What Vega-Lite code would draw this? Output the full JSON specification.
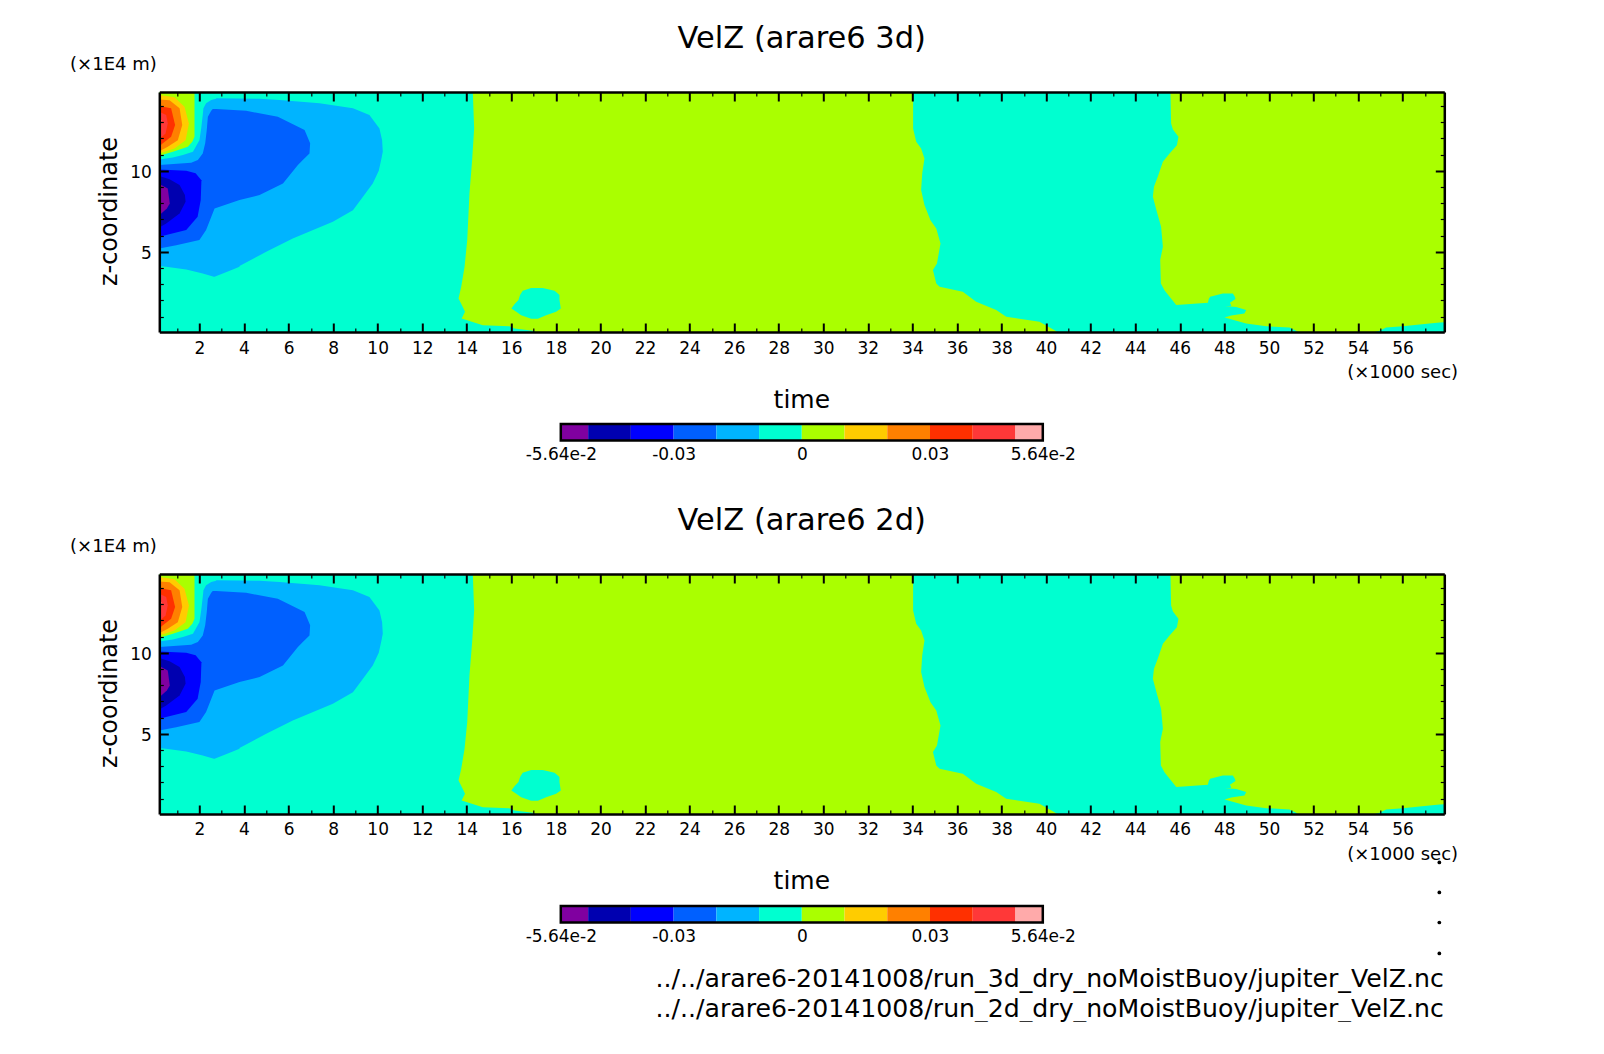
{
  "$schema": "https://vega.github.io/schema/vega-lite/v6.json",
  "description": "VelZ time-height sections from arare6, 3d and 2d runs",
  "background": "white",
  "padding": {"left": 69.3, "top": 24, "right": 0, "bottom": 0},
  "config": {"view": {"stroke": null}},
  "datasets": {
    "contours": [
      {"shape": "base", "band": -0.01, "x": 0.2, "x2": 58, "y": 14.86},
      {"shape": "base", "band": -0.01, "x": 0.2, "x2": 58, "y": 0.05},

      {"shape": "lime1", "band": 0, "x": 14.27, "x2": 58, "y": 14.86},
      {"shape": "lime1", "band": 0, "x": 14.33, "x2": 58, "y": 12.61},
      {"shape": "lime1", "band": 0, "x": 14.24, "x2": 58, "y": 10.66},
      {"shape": "lime1", "band": 0, "x": 14.12, "x2": 58, "y": 8.6},
      {"shape": "lime1", "band": 0, "x": 14.02, "x2": 58, "y": 5.72},
      {"shape": "lime1", "band": 0, "x": 13.9, "x2": 58, "y": 4.07},
      {"shape": "lime1", "band": 0, "x": 13.75, "x2": 58, "y": 2.84},
      {"shape": "lime1", "band": 0, "x": 13.63, "x2": 58, "y": 2.12},
      {"shape": "lime1", "band": 0, "x": 13.82, "x2": 58, "y": 1.6},
      {"shape": "lime1", "band": 0, "x": 13.92, "x2": 58, "y": 1.3},
      {"shape": "lime1", "band": 0, "x": 13.77, "x2": 58, "y": 0.88},
      {"shape": "lime1", "band": 0, "x": 14.72, "x2": 58, "y": 0.47},
      {"shape": "lime1", "band": 0, "x": 15.91, "x2": 58, "y": 0.41},
      {"shape": "lime1", "band": 0, "x": 16.14, "x2": 58, "y": 0.27},
      {"shape": "lime1", "band": 0, "x": 16.97, "x2": 58, "y": 0.12},
      {"shape": "lime1", "band": 0, "x": 17.1, "x2": 58, "y": 0.05},

      {"shape": "turq2", "band": -0.01, "x": 34.03, "x2": 58, "y": 14.86},
      {"shape": "turq2", "band": -0.01, "x": 34.03, "x2": 58, "y": 12.61},
      {"shape": "turq2", "band": -0.01, "x": 34.17, "x2": 58, "y": 11.79},
      {"shape": "turq2", "band": -0.01, "x": 34.39, "x2": 58, "y": 11.38},
      {"shape": "turq2", "band": -0.01, "x": 34.54, "x2": 58, "y": 10.76},
      {"shape": "turq2", "band": -0.01, "x": 34.44, "x2": 58, "y": 9.84},
      {"shape": "turq2", "band": -0.01, "x": 34.39, "x2": 58, "y": 8.81},
      {"shape": "turq2", "band": -0.01, "x": 34.54, "x2": 58, "y": 7.88},
      {"shape": "turq2", "band": -0.01, "x": 34.81, "x2": 58, "y": 6.95},
      {"shape": "turq2", "band": -0.01, "x": 35.07, "x2": 58, "y": 6.44},
      {"shape": "turq2", "band": -0.01, "x": 35.26, "x2": 58, "y": 5.51},
      {"shape": "turq2", "band": -0.01, "x": 35.1, "x2": 58, "y": 4.28},
      {"shape": "turq2", "band": -0.01, "x": 34.92, "x2": 58, "y": 3.87},
      {"shape": "turq2", "band": -0.01, "x": 35.07, "x2": 58, "y": 3.05},
      {"shape": "turq2", "band": -0.01, "x": 35.22, "x2": 58, "y": 2.84},
      {"shape": "turq2", "band": -0.01, "x": 36.26, "x2": 58, "y": 2.53},
      {"shape": "turq2", "band": -0.01, "x": 36.86, "x2": 58, "y": 1.91},
      {"shape": "turq2", "band": -0.01, "x": 37.76, "x2": 58, "y": 1.4},
      {"shape": "turq2", "band": -0.01, "x": 38.21, "x2": 58, "y": 0.99},
      {"shape": "turq2", "band": -0.01, "x": 39.7, "x2": 58, "y": 0.68},
      {"shape": "turq2", "band": -0.01, "x": 40.38, "x2": 58, "y": 0.16},
      {"shape": "turq2", "band": -0.01, "x": 40.5, "x2": 58, "y": 0.05},

      {"shape": "lime2", "band": 0, "x": 45.58, "x2": 58, "y": 14.86},
      {"shape": "lime2", "band": 0, "x": 45.61, "x2": 58, "y": 12.92},
      {"shape": "lime2", "band": 0, "x": 45.69, "x2": 58, "y": 12.55},
      {"shape": "lime2", "band": 0, "x": 45.94, "x2": 58, "y": 12.1},
      {"shape": "lime2", "band": 0, "x": 45.87, "x2": 58, "y": 11.58},
      {"shape": "lime2", "band": 0, "x": 45.54, "x2": 58, "y": 11.07},
      {"shape": "lime2", "band": 0, "x": 45.24, "x2": 58, "y": 10.56},
      {"shape": "lime2", "band": 0, "x": 45.01, "x2": 58, "y": 9.63},
      {"shape": "lime2", "band": 0, "x": 44.84, "x2": 58, "y": 9.01},
      {"shape": "lime2", "band": 0, "x": 44.79, "x2": 58, "y": 8.4},
      {"shape": "lime2", "band": 0, "x": 44.97, "x2": 58, "y": 7.47},
      {"shape": "lime2", "band": 0, "x": 45.16, "x2": 58, "y": 6.54},
      {"shape": "lime2", "band": 0, "x": 45.24, "x2": 58, "y": 5.31},
      {"shape": "lime2", "band": 0, "x": 45.12, "x2": 58, "y": 4.49},
      {"shape": "lime2", "band": 0, "x": 45.15, "x2": 58, "y": 3.05},
      {"shape": "lime2", "band": 0, "x": 45.31, "x2": 58, "y": 2.63},
      {"shape": "lime2", "band": 0, "x": 45.84, "x2": 58, "y": 1.71},
      {"shape": "lime2", "band": 0, "x": 47.78, "x2": 58, "y": 1.69},
      {"shape": "lime2", "band": 0, "x": 48.53, "x2": 58, "y": 1.6},
      {"shape": "lime2", "band": 0, "x": 48.98, "x2": 58, "y": 1.4},
      {"shape": "lime2", "band": 0, "x": 48.9, "x2": 58, "y": 1.19},
      {"shape": "lime2", "band": 0, "x": 48.31, "x2": 58, "y": 1.07},
      {"shape": "lime2", "band": 0, "x": 48.01, "x2": 58, "y": 0.95},
      {"shape": "lime2", "band": 0, "x": 48.98, "x2": 58, "y": 0.58},
      {"shape": "lime2", "band": 0, "x": 49.88, "x2": 58, "y": 0.41},
      {"shape": "lime2", "band": 0, "x": 50.92, "x2": 58, "y": 0.33},
      {"shape": "lime2", "band": 0, "x": 51.22, "x2": 58, "y": 0.12},
      {"shape": "lime2", "band": 0, "x": 51.3, "x2": 58, "y": 0.05},

      {"shape": "tongue", "band": -0.01, "x": 47.93, "x2": 48.38, "y": 2.43},
      {"shape": "tongue", "band": -0.01, "x": 47.36, "x2": 48.47, "y": 2.22},
      {"shape": "tongue", "band": -0.01, "x": 47.3, "x2": 48.5, "y": 2.08},
      {"shape": "tongue", "band": -0.01, "x": 47.26, "x2": 48.25, "y": 1.85},
      {"shape": "tongue", "band": -0.01, "x": 45.84, "x2": 48.3, "y": 1.71},
      {"shape": "tongue", "band": -0.01, "x": 45.84, "x2": 48.3, "y": 1.65},

      {"shape": "strip", "band": -0.01, "x": 58, "x2": 58, "y": 0.66},
      {"shape": "strip", "band": -0.01, "x": 57.66, "x2": 58, "y": 0.64},
      {"shape": "strip", "band": -0.01, "x": 56.76, "x2": 58, "y": 0.51},
      {"shape": "strip", "band": -0.01, "x": 56.01, "x2": 58, "y": 0.41},
      {"shape": "strip", "band": -0.01, "x": 55.26, "x2": 58, "y": 0.33},
      {"shape": "strip", "band": -0.01, "x": 54.96, "x2": 58, "y": 0.12},
      {"shape": "strip", "band": -0.01, "x": 54.75, "x2": 58, "y": 0.05},

      {"shape": "blob", "band": -0.01, "x": 16.89, "x2": 17.41, "y": 2.76},
      {"shape": "blob", "band": -0.01, "x": 16.51, "x2": 17.94, "y": 2.59},
      {"shape": "blob", "band": -0.01, "x": 16.39, "x2": 18.16, "y": 2.33},
      {"shape": "blob", "band": -0.01, "x": 16.32, "x2": 18.16, "y": 2.02},
      {"shape": "blob", "band": -0.01, "x": 16.14, "x2": 18.19, "y": 1.77},
      {"shape": "blob", "band": -0.01, "x": 16.0, "x2": 18.22, "y": 1.5},
      {"shape": "blob", "band": -0.01, "x": 16.22, "x2": 18.01, "y": 1.3},
      {"shape": "blob", "band": -0.01, "x": 16.44, "x2": 17.56, "y": 1.09},
      {"shape": "blob", "band": -0.01, "x": 16.89, "x2": 17.19, "y": 0.86},

      {"shape": "azure", "band": -0.02, "x": 2.75, "x2": 2.75, "y": 14.47},
      {"shape": "azure", "band": -0.02, "x": 2.75, "x2": 4.7, "y": 14.44},
      {"shape": "azure", "band": -0.02, "x": 2.53, "x2": 5.6, "y": 14.36},
      {"shape": "azure", "band": -0.02, "x": 2.3, "x2": 7.39, "y": 14.16},
      {"shape": "azure", "band": -0.02, "x": 2.18, "x2": 8.89, "y": 13.85},
      {"shape": "azure", "band": -0.02, "x": 2.15, "x2": 9.63, "y": 13.44},
      {"shape": "azure", "band": -0.02, "x": 2.08, "x2": 10.08, "y": 12.61},
      {"shape": "azure", "band": -0.02, "x": 2.0, "x2": 10.2, "y": 11.89},
      {"shape": "azure", "band": -0.02, "x": 1.71, "x2": 10.23, "y": 11.17},
      {"shape": "azure", "band": -0.02, "x": 1.26, "x2": 10.2, "y": 10.97},
      {"shape": "azure", "band": -0.02, "x": 0.81, "x2": 10.18, "y": 10.82},
      {"shape": "azure", "band": -0.02, "x": 0.2, "x2": 10.16, "y": 10.7},
      {"shape": "azure", "band": -0.02, "x": 0.2, "x2": 10.05, "y": 10.0},
      {"shape": "azure", "band": -0.02, "x": 0.2, "x2": 9.78, "y": 9.22},
      {"shape": "azure", "band": -0.02, "x": 0.2, "x2": 9.34, "y": 8.4},
      {"shape": "azure", "band": -0.02, "x": 0.2, "x2": 8.89, "y": 7.57},
      {"shape": "azure", "band": -0.02, "x": 0.2, "x2": 7.99, "y": 6.85},
      {"shape": "azure", "band": -0.02, "x": 0.2, "x2": 6.19, "y": 5.82},
      {"shape": "azure", "band": -0.02, "x": 0.2, "x2": 5.0, "y": 5.0},
      {"shape": "azure", "band": -0.02, "x": 0.2, "x2": 3.8, "y": 4.12},
      {"shape": "azure", "band": -0.02, "x": 0.5, "x2": 3.8, "y": 4.07},
      {"shape": "azure", "band": -0.02, "x": 1.41, "x2": 3.5, "y": 3.91},
      {"shape": "azure", "band": -0.02, "x": 2.15, "x2": 3.05, "y": 3.66},
      {"shape": "azure", "band": -0.02, "x": 2.65, "x2": 2.68, "y": 3.46},

      {"shape": "mid", "band": -0.03, "x": 2.6, "x2": 2.75, "y": 13.81},
      {"shape": "mid", "band": -0.03, "x": 2.53, "x2": 4.1, "y": 13.7},
      {"shape": "mid", "band": -0.03, "x": 2.38, "x2": 5.52, "y": 13.33},
      {"shape": "mid", "band": -0.03, "x": 2.33, "x2": 6.72, "y": 12.51},
      {"shape": "mid", "band": -0.03, "x": 2.26, "x2": 6.97, "y": 11.69},
      {"shape": "mid", "band": -0.03, "x": 2.15, "x2": 6.94, "y": 11.07},
      {"shape": "mid", "band": -0.03, "x": 1.93, "x2": 6.64, "y": 10.66},
      {"shape": "mid", "band": -0.03, "x": 1.63, "x2": 6.52, "y": 10.49},
      {"shape": "mid", "band": -0.03, "x": 0.2, "x2": 6.42, "y": 10.35},
      {"shape": "mid", "band": -0.03, "x": 0.2, "x2": 5.75, "y": 9.22},
      {"shape": "mid", "band": -0.03, "x": 0.2, "x2": 4.7, "y": 8.5},
      {"shape": "mid", "band": -0.03, "x": 0.2, "x2": 3.8, "y": 8.19},
      {"shape": "mid", "band": -0.03, "x": 0.2, "x2": 2.68, "y": 7.67},
      {"shape": "mid", "band": -0.03, "x": 0.2, "x2": 2.3, "y": 6.34},
      {"shape": "mid", "band": -0.03, "x": 0.2, "x2": 2.0, "y": 5.72},
      {"shape": "mid", "band": -0.03, "x": 0.2, "x2": 0.96, "y": 5.41},
      {"shape": "mid", "band": -0.03, "x": 0.2, "x2": 0.2, "y": 5.21},

      {"shape": "blue", "band": -0.04, "x": 0.2, "x2": 0.2, "y": 10.08},
      {"shape": "blue", "band": -0.04, "x": 0.2, "x2": 1.41, "y": 10.0},
      {"shape": "blue", "band": -0.04, "x": 0.2, "x2": 1.83, "y": 9.84},
      {"shape": "blue", "band": -0.04, "x": 0.2, "x2": 2.09, "y": 9.42},
      {"shape": "blue", "band": -0.04, "x": 0.2, "x2": 2.06, "y": 8.19},
      {"shape": "blue", "band": -0.04, "x": 0.2, "x2": 1.92, "y": 7.16},
      {"shape": "blue", "band": -0.04, "x": 0.2, "x2": 1.41, "y": 6.34},
      {"shape": "blue", "band": -0.04, "x": 0.2, "x2": 0.51, "y": 6.03},
      {"shape": "blue", "band": -0.04, "x": 0.2, "x2": 0.2, "y": 5.93},

      {"shape": "dark", "band": -0.05, "x": 0.2, "x2": 0.2, "y": 9.67},
      {"shape": "dark", "band": -0.05, "x": 0.2, "x2": 0.66, "y": 9.47},
      {"shape": "dark", "band": -0.05, "x": 0.2, "x2": 1.11, "y": 9.12},
      {"shape": "dark", "band": -0.05, "x": 0.2, "x2": 1.35, "y": 8.5},
      {"shape": "dark", "band": -0.05, "x": 0.2, "x2": 1.38, "y": 8.09},
      {"shape": "dark", "band": -0.05, "x": 0.2, "x2": 1.11, "y": 7.37},
      {"shape": "dark", "band": -0.05, "x": 0.2, "x2": 0.51, "y": 6.75},
      {"shape": "dark", "band": -0.05, "x": 0.2, "x2": 0.2, "y": 6.5},

      {"shape": "purple", "band": -0.06, "x": 0.2, "x2": 0.2, "y": 9.18},
      {"shape": "purple", "band": -0.06, "x": 0.2, "x2": 0.58, "y": 8.91},
      {"shape": "purple", "band": -0.06, "x": 0.2, "x2": 0.67, "y": 7.98},
      {"shape": "purple", "band": -0.06, "x": 0.2, "x2": 0.54, "y": 7.67},
      {"shape": "purple", "band": -0.06, "x": 0.2, "x2": 0.2, "y": 7.26},

      {"shape": "lobe0", "band": 0, "x": 0.2, "x2": 1.78, "y": 14.86},
      {"shape": "lobe0", "band": 0, "x": 0.2, "x2": 1.78, "y": 12.1},
      {"shape": "lobe0", "band": 0, "x": 0.2, "x2": 1.68, "y": 11.79},
      {"shape": "lobe0", "band": 0, "x": 0.2, "x2": 1.48, "y": 11.48},
      {"shape": "lobe0", "band": 0, "x": 0.2, "x2": 0.81, "y": 11.17},
      {"shape": "lobe0", "band": 0, "x": 0.2, "x2": 0.2, "y": 10.93},

      {"shape": "lobe1", "band": 0.01, "x": 0.2, "x2": 0.2, "y": 14.67},
      {"shape": "lobe1", "band": 0.01, "x": 0.2, "x2": 0.88, "y": 14.53},
      {"shape": "lobe1", "band": 0.01, "x": 0.2, "x2": 1.33, "y": 13.95},
      {"shape": "lobe1", "band": 0.01, "x": 0.2, "x2": 1.53, "y": 12.92},
      {"shape": "lobe1", "band": 0.01, "x": 0.2, "x2": 1.38, "y": 11.89},
      {"shape": "lobe1", "band": 0.01, "x": 0.2, "x2": 0.88, "y": 11.38},
      {"shape": "lobe1", "band": 0.01, "x": 0.2, "x2": 0.2, "y": 11.07},

      {"shape": "lobe2", "band": 0.02, "x": 0.2, "x2": 0.2, "y": 14.4},
      {"shape": "lobe2", "band": 0.02, "x": 0.2, "x2": 0.66, "y": 14.35},
      {"shape": "lobe2", "band": 0.02, "x": 0.2, "x2": 1.11, "y": 13.85},
      {"shape": "lobe2", "band": 0.02, "x": 0.2, "x2": 1.23, "y": 12.82},
      {"shape": "lobe2", "band": 0.02, "x": 0.2, "x2": 1.03, "y": 11.89},
      {"shape": "lobe2", "band": 0.02, "x": 0.2, "x2": 0.58, "y": 11.48},
      {"shape": "lobe2", "band": 0.02, "x": 0.2, "x2": 0.2, "y": 11.21},

      {"shape": "lobe3", "band": 0.03, "x": 0.2, "x2": 0.2, "y": 13.99},
      {"shape": "lobe3", "band": 0.03, "x": 0.2, "x2": 0.73, "y": 13.85},
      {"shape": "lobe3", "band": 0.03, "x": 0.2, "x2": 0.91, "y": 12.82},
      {"shape": "lobe3", "band": 0.03, "x": 0.2, "x2": 0.73, "y": 12.1},
      {"shape": "lobe3", "band": 0.03, "x": 0.2, "x2": 0.36, "y": 11.69},
      {"shape": "lobe3", "band": 0.03, "x": 0.2, "x2": 0.2, "y": 11.52},

      {"shape": "lobe4", "band": 0.04, "x": 0.2, "x2": 0.2, "y": 13.64},
      {"shape": "lobe4", "band": 0.04, "x": 0.2, "x2": 0.51, "y": 13.44},
      {"shape": "lobe4", "band": 0.04, "x": 0.2, "x2": 0.58, "y": 12.92},
      {"shape": "lobe4", "band": 0.04, "x": 0.2, "x2": 0.48, "y": 12.3},
      {"shape": "lobe4", "band": 0.04, "x": 0.2, "x2": 0.2, "y": 11.95},

      {"shape": "lobe5", "band": 0.05, "x": 0.2, "x2": 0.2, "y": 13.25},
      {"shape": "lobe5", "band": 0.05, "x": 0.2, "x2": 0.3, "y": 13.1},
      {"shape": "lobe5", "band": 0.05, "x": 0.2, "x2": 0.2, "y": 12.8}
    ],
    "colorbar": [
      {"band": -0.06, "lo": -0.0564, "hi": -0.05},
      {"band": -0.05, "lo": -0.05, "hi": -0.04},
      {"band": -0.04, "lo": -0.04, "hi": -0.03},
      {"band": -0.03, "lo": -0.03, "hi": -0.02},
      {"band": -0.02, "lo": -0.02, "hi": -0.01},
      {"band": -0.01, "lo": -0.01, "hi": 0},
      {"band": 0, "lo": 0, "hi": 0.01},
      {"band": 0.01, "lo": 0.01, "hi": 0.02},
      {"band": 0.02, "lo": 0.02, "hi": 0.03},
      {"band": 0.03, "lo": 0.03, "hi": 0.04},
      {"band": 0.04, "lo": 0.04, "hi": 0.05},
      {"band": 0.05, "lo": 0.05, "hi": 0.0564}
    ],
    "barframe": [{"lo": -0.0564, "hi": 0.0564}],
    "units": [
      {"x": -1.86, "y": 16.54, "label": "(×1E4 m)"},
      {"x": 56.0, "y": -2.46, "label": "(×1000 sec)"}
    ],
    "files": [
      {"x": 0.058, "y": -0.271, "label": "../../arare6-20141008/run_3d_dry_noMoistBuoy/jupiter_VelZ.nc"},
      {"x": 0.058, "y": -0.786, "label": "../../arare6-20141008/run_2d_dry_noMoistBuoy/jupiter_VelZ.nc"}
    ],
    "dots": [
      {"x": 0.1492, "y": 1.757},
      {"x": 0.1492, "y": 1.235},
      {"x": 0.1492, "y": 0.713},
      {"x": 0.1492, "y": 0.174}
    ]
  },
  "vconcat": [
    {
      "width": 1285,
      "height": 240,
      "title": {"text": "VelZ (arare6 3d)", "font": "DejaVu Sans", "fontSize": 30.5, "fontWeight": "normal", "anchor": "middle", "offset": 1, "color": "black"},
      "layer": [
        {
          "data": {"name": "contours"},
          "mark": {"type": "area", "orient": "horizontal", "interpolate": "linear", "clip": true},
          "encoding": {
            "x": {"field": "x", "type": "quantitative", "stack": null, "scale": {"domain": [0.2, 57.87], "nice": false, "zero": false},
              "axis": {"orient": "bottom", "zindex": 1, "grid": false, "values": [1,2,3,4,5,6,7,8,9,10,11,12,13,14,15,16,17,18,19,20,21,22,23,24,25,26,27,28,29,30,31,32,33,34,35,36,37,38,39,40,41,42,43,44,45,46,47,48,49,50,51,52,53,54,55,56,57],
                "labelExpr": "datum.value % 2 === 0 ? datum.label : ''", "labelOverlap": false, "labelFlush": false, "labelFont": "DejaVu Sans", "labelFontSize": 17, "labelColor": "black", "labelPadding": 17,
                "domainColor": "black", "domainWidth": 2.5, "tickColor": "black",
                "tickSize": {"condition": {"test": "datum.value % 2 === 0", "value": -9}, "value": -4},
                "tickWidth": {"condition": {"test": "datum.value % 2 === 0", "value": 2}, "value": 1.2},
                "title": "time", "titleFont": "DejaVu Sans", "titleFontSize": 25, "titleFontWeight": "normal", "titleColor": "black", "titleX": 642, "titleY": 55}},
            "x2": {"field": "x2"},
            "y": {"field": "y", "type": "quantitative", "scale": {"domain": [0.05, 14.86], "nice": false, "zero": false},
              "axis": {"orient": "left", "zindex": 1, "grid": false, "values": [1,2,3,4,5,6,7,8,9,10,11,12,13,14],
                "labelExpr": "datum.value % 5 === 0 ? datum.label : ''", "labelOverlap": false, "labelFlush": false, "labelFont": "DejaVu Sans", "labelFontSize": 17, "labelColor": "black", "labelPadding": 17, "labelOffset": 1.5,
                "domainColor": "black", "domainWidth": 2.5, "tickColor": "black",
                "tickSize": {"condition": {"test": "datum.value % 5 === 0", "value": -9}, "value": -4},
                "tickWidth": {"condition": {"test": "datum.value % 5 === 0", "value": 2}, "value": 1.2},
                "title": "z-coordinate", "titleFont": "DejaVu Sans", "titleFontSize": 24, "titleFontWeight": "normal", "titleColor": "black", "titleX": -38, "titleY": 119}},
            "detail": {"field": "shape"},
            "color": {"field": "band", "type": "nominal", "legend": null,
              "scale": {"domain": [-0.06,-0.05,-0.04,-0.03,-0.02,-0.01,0,0.01,0.02,0.03,0.04,0.05],
                "range": ["#8000A0","#0000B0","#0000FF","#0060FF","#00B4FF","#00FFD0","#AAFF00","#FFCC00","#FF8000","#FF3000","#FF3838","#FFAAAA"]}}
          }
        },
        {
          "data": {"name": "units"},
          "mark": {"type": "text", "font": "DejaVu Sans", "fontSize": 18, "color": "black", "align": "center", "baseline": "middle", "clip": false},
          "encoding": {
            "x": {"field": "x", "type": "quantitative", "scale": {"domain": [0.2, 57.87], "nice": false, "zero": false},
              "axis": {"orient": "top", "zindex": 1, "grid": false, "labels": false, "title": null, "values": [1,2,3,4,5,6,7,8,9,10,11,12,13,14,15,16,17,18,19,20,21,22,23,24,25,26,27,28,29,30,31,32,33,34,35,36,37,38,39,40,41,42,43,44,45,46,47,48,49,50,51,52,53,54,55,56,57],
                "domainColor": "black", "domainWidth": 2.5, "tickColor": "black",
                "tickSize": {"condition": {"test": "datum.value % 2 === 0", "value": -9}, "value": -4},
                "tickWidth": {"condition": {"test": "datum.value % 2 === 0", "value": 2}, "value": 1.2}}},
            "y": {"field": "y", "type": "quantitative", "scale": {"domain": [0.05, 14.86], "nice": false, "zero": false},
              "axis": {"orient": "right", "zindex": 1, "grid": false, "labels": false, "title": null, "values": [1,2,3,4,5,6,7,8,9,10,11,12,13,14],
                "domainColor": "black", "domainWidth": 2.5, "tickColor": "black",
                "tickSize": {"condition": {"test": "datum.value % 5 === 0", "value": -9}, "value": -4},
                "tickWidth": {"condition": {"test": "datum.value % 5 === 0", "value": 2}, "value": 1.2}}},
            "text": {"field": "label"}
          }
        }
      ],
      "resolve": {"axis": {"x": "independent", "y": "independent"}}
    },
    {
      "width": 482,
      "height": 57.5,
      "layer": [
        {
          "data": {"name": "colorbar"},
          "mark": {"type": "rect"},
          "encoding": {
            "x": {"field": "lo", "type": "quantitative", "scale": {"domain": [-0.0564, 0.0564], "nice": false, "zero": false},
              "axis": {"values": [-0.0564,-0.03,0,0.03,0.0564], "labelExpr": "{'-0.0564': '-5.64e-2', '-0.03': '-0.03', '0': '0', '0.03': '0.03', '0.0564': '5.64e-2'}[datum.value + '']", "labelOverlap": false, "labelFlush": false, "labelFont": "DejaVu Sans", "labelFontSize": 17, "labelColor": "black", "labelPadding": 6, "ticks": false, "tickSize": 0, "domain": false, "grid": false, "title": null, "offset": -41}},
            "x2": {"field": "hi"},
            "y": {"datum": 0.713, "type": "quantitative", "scale": {"domain": [0, 1], "nice": false, "zero": false}, "axis": null},
            "y2": {"datum": 1},
            "color": {"field": "band", "type": "nominal", "legend": null,
              "scale": {"domain": [-0.06,-0.05,-0.04,-0.03,-0.02,-0.01,0,0.01,0.02,0.03,0.04,0.05],
                "range": ["#8000A0","#0000B0","#0000FF","#0060FF","#00B4FF","#00FFD0","#AAFF00","#FFCC00","#FF8000","#FF3000","#FF3838","#FFAAAA"]}}
          }
        },
        {
          "data": {"name": "barframe"},
          "mark": {"type": "rect", "filled": false, "stroke": "black", "strokeWidth": 2.5},
          "encoding": {
            "x": {"field": "lo", "type": "quantitative"},
            "x2": {"field": "hi"},
            "y": {"datum": 0.713, "type": "quantitative"},
            "y2": {"datum": 1}
          }
        }
      ]
    },
    {
      "width": 1285,
      "height": 240,
      "title": {"text": "VelZ (arare6 2d)", "font": "DejaVu Sans", "fontSize": 30.5, "fontWeight": "normal", "anchor": "middle", "offset": 1, "color": "black"},
      "layer": [
        {
          "data": {"name": "contours"},
          "mark": {"type": "area", "orient": "horizontal", "interpolate": "linear", "clip": true},
          "encoding": {
            "x": {"field": "x", "type": "quantitative", "stack": null, "scale": {"domain": [0.2, 57.87], "nice": false, "zero": false},
              "axis": {"orient": "bottom", "zindex": 1, "grid": false, "values": [1,2,3,4,5,6,7,8,9,10,11,12,13,14,15,16,17,18,19,20,21,22,23,24,25,26,27,28,29,30,31,32,33,34,35,36,37,38,39,40,41,42,43,44,45,46,47,48,49,50,51,52,53,54,55,56,57],
                "labelExpr": "datum.value % 2 === 0 ? datum.label : ''", "labelOverlap": false, "labelFlush": false, "labelFont": "DejaVu Sans", "labelFontSize": 17, "labelColor": "black", "labelPadding": 17,
                "domainColor": "black", "domainWidth": 2.5, "tickColor": "black",
                "tickSize": {"condition": {"test": "datum.value % 2 === 0", "value": -9}, "value": -4},
                "tickWidth": {"condition": {"test": "datum.value % 2 === 0", "value": 2}, "value": 1.2},
                "title": "time", "titleFont": "DejaVu Sans", "titleFontSize": 25, "titleFontWeight": "normal", "titleColor": "black", "titleX": 642, "titleY": 55}},
            "x2": {"field": "x2"},
            "y": {"field": "y", "type": "quantitative", "scale": {"domain": [0.05, 14.86], "nice": false, "zero": false},
              "axis": {"orient": "left", "zindex": 1, "grid": false, "values": [1,2,3,4,5,6,7,8,9,10,11,12,13,14],
                "labelExpr": "datum.value % 5 === 0 ? datum.label : ''", "labelOverlap": false, "labelFlush": false, "labelFont": "DejaVu Sans", "labelFontSize": 17, "labelColor": "black", "labelPadding": 17, "labelOffset": 1.5,
                "domainColor": "black", "domainWidth": 2.5, "tickColor": "black",
                "tickSize": {"condition": {"test": "datum.value % 5 === 0", "value": -9}, "value": -4},
                "tickWidth": {"condition": {"test": "datum.value % 5 === 0", "value": 2}, "value": 1.2},
                "title": "z-coordinate", "titleFont": "DejaVu Sans", "titleFontSize": 24, "titleFontWeight": "normal", "titleColor": "black", "titleX": -38, "titleY": 119}},
            "detail": {"field": "shape"},
            "color": {"field": "band", "type": "nominal", "legend": null,
              "scale": {"domain": [-0.06,-0.05,-0.04,-0.03,-0.02,-0.01,0,0.01,0.02,0.03,0.04,0.05],
                "range": ["#8000A0","#0000B0","#0000FF","#0060FF","#00B4FF","#00FFD0","#AAFF00","#FFCC00","#FF8000","#FF3000","#FF3838","#FFAAAA"]}}
          }
        },
        {
          "data": {"name": "units"},
          "mark": {"type": "text", "font": "DejaVu Sans", "fontSize": 18, "color": "black", "align": "center", "baseline": "middle", "clip": false},
          "encoding": {
            "x": {"field": "x", "type": "quantitative", "scale": {"domain": [0.2, 57.87], "nice": false, "zero": false},
              "axis": {"orient": "top", "zindex": 1, "grid": false, "labels": false, "title": null, "values": [1,2,3,4,5,6,7,8,9,10,11,12,13,14,15,16,17,18,19,20,21,22,23,24,25,26,27,28,29,30,31,32,33,34,35,36,37,38,39,40,41,42,43,44,45,46,47,48,49,50,51,52,53,54,55,56,57],
                "domainColor": "black", "domainWidth": 2.5, "tickColor": "black",
                "tickSize": {"condition": {"test": "datum.value % 2 === 0", "value": -9}, "value": -4},
                "tickWidth": {"condition": {"test": "datum.value % 2 === 0", "value": 2}, "value": 1.2}}},
            "y": {"field": "y", "type": "quantitative", "scale": {"domain": [0.05, 14.86], "nice": false, "zero": false},
              "axis": {"orient": "right", "zindex": 1, "grid": false, "labels": false, "title": null, "values": [1,2,3,4,5,6,7,8,9,10,11,12,13,14],
                "domainColor": "black", "domainWidth": 2.5, "tickColor": "black",
                "tickSize": {"condition": {"test": "datum.value % 5 === 0", "value": -9}, "value": -4},
                "tickWidth": {"condition": {"test": "datum.value % 5 === 0", "value": 2}, "value": 1.2}}},
            "text": {"field": "label"}
          }
        }
      ],
      "resolve": {"axis": {"x": "independent", "y": "independent"}}
    },
    {
      "width": 482,
      "height": 57.5,
      "layer": [
        {
          "data": {"name": "colorbar"},
          "mark": {"type": "rect"},
          "encoding": {
            "x": {"field": "lo", "type": "quantitative", "scale": {"domain": [-0.0564, 0.0564], "nice": false, "zero": false},
              "axis": {"values": [-0.0564,-0.03,0,0.03,0.0564], "labelExpr": "{'-0.0564': '-5.64e-2', '-0.03': '-0.03', '0': '0', '0.03': '0.03', '0.0564': '5.64e-2'}[datum.value + '']", "labelOverlap": false, "labelFlush": false, "labelFont": "DejaVu Sans", "labelFontSize": 17, "labelColor": "black", "labelPadding": 6, "ticks": false, "tickSize": 0, "domain": false, "grid": false, "title": null, "offset": -41}},
            "x2": {"field": "hi"},
            "y": {"datum": 0.713, "type": "quantitative", "scale": {"domain": [0, 1], "nice": false, "zero": false}, "axis": null},
            "y2": {"datum": 1},
            "color": {"field": "band", "type": "nominal", "legend": null,
              "scale": {"domain": [-0.06,-0.05,-0.04,-0.03,-0.02,-0.01,0,0.01,0.02,0.03,0.04,0.05],
                "range": ["#8000A0","#0000B0","#0000FF","#0060FF","#00B4FF","#00FFD0","#AAFF00","#FFCC00","#FF8000","#FF3000","#FF3838","#FFAAAA"]}}
          }
        },
        {
          "data": {"name": "barframe"},
          "mark": {"type": "rect", "filled": false, "stroke": "black", "strokeWidth": 2.5},
          "encoding": {
            "x": {"field": "lo", "type": "quantitative"},
            "x2": {"field": "hi"},
            "y": {"datum": 0.713, "type": "quantitative"},
            "y2": {"datum": 1}
          }
        },
        {
          "data": {"name": "files"},
          "mark": {"type": "text", "font": "DejaVu Sans", "fontSize": 25.2, "color": "black", "align": "center", "baseline": "middle", "clip": false},
          "encoding": {
            "x": {"field": "x", "type": "quantitative"},
            "y": {"field": "y", "type": "quantitative"},
            "text": {"field": "label"}
          }
        },
        {
          "data": {"name": "dots"},
          "mark": {"type": "point", "filled": true, "size": 14, "color": "black", "opacity": 1},
          "encoding": {
            "x": {"field": "x", "type": "quantitative"},
            "y": {"field": "y", "type": "quantitative"}
          }
        }
      ]
    }
  ],
  "spacing": 92,
  "bounds": "flush",
  "center": true
}
